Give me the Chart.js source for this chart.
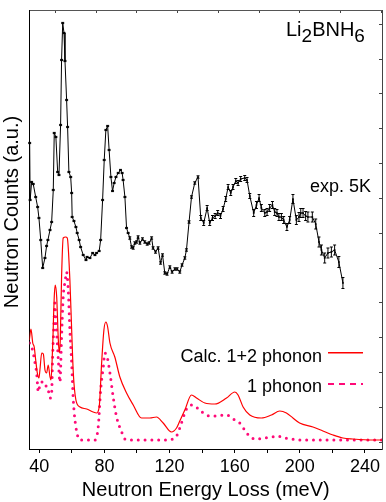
<!DOCTYPE html>
<html>
<head>
<meta charset="utf-8">
<title>Li2BNH6 inelastic neutron spectrum</title>
<script src="https://cdn.jsdelivr.net/npm/chart.js@4.4.1/dist/chart.umd.min.js"></script>
<style>
  html, body { margin: 0; padding: 0; background: #fff; }
  #wrap { width: 386px; height: 502px; }
</style>
</head>
<body>
<div id="wrap"><canvas id="ins-chart" width="386" height="502"></canvas></div>
<script>
const FONT = '"Liberation Sans", Arial, Helvetica, sans-serif';

// Measured spectrum at 5 K (energy in meV, counts in arbitrary units)
const expEnergy = [
  34.1, 34.4, 35.3, 36.3, 37.8, 39.0, 39.8, 40.9, 42.1, 43.5,
  44.5, 45.3, 46.6, 47.6, 48.6, 49.2, 50.2, 51.3, 52.1, 53.1,
  53.7, 54.4, 55.2, 55.8, 56.8, 57.4, 58.2, 59.3, 59.9, 60.2,
  61.3, 62.5, 63.3, 64.5, 65.4, 67.0, 68.7, 69.4, 71.1, 72.8,
  74.2, 75.2, 76.8, 77.7, 78.9, 79.9, 80.9, 82.0, 82.9, 84.0,
  85.0, 86.0, 87.1, 88.5, 89.9, 90.9, 91.5, 92.6, 93.6, 94.6,
  95.6, 96.7, 97.7, 98.7, 99.8, 100.7, 101.8, 103.4, 104.8, 106.3,
  107.5, 109.0, 109.9, 111.4, 113.0, 114.5, 115.7, 117.1, 118.5, 120.2,
  121.6, 123.3, 124.7, 126.3, 127.7, 129.4, 130.4, 132.0, 133.5, 135.5,
  137.5, 139.2, 141.0, 143.1, 144.7, 146.4, 148.0, 149.6, 151.3, 152.9,
  154.5, 156.0, 157.6, 159.0, 160.7, 162.1, 163.7, 166.2, 167.6, 169.3,
  171.7, 173.4, 175.0, 176.4, 178.5, 179.9, 181.5, 183.2, 184.6, 186.0,
  187.2, 188.7, 190.1, 192.1, 193.8, 195.8, 197.9, 199.5, 200.6, 202.0,
  203.6, 205.0, 207.7, 209.8, 211.8, 213.3, 215.3, 217.3, 219.4, 221.4,
  224.0, 226.5
];
const expCounts = [
  306, 249, 267, 265, 252, 242, 231, 209, 181, 191,
  203, 209, 219, 227, 259, 316, 312, 277, 274, 324,
  389, 426, 416, 388, 349, 322, 277, 272, 256, 232,
  228, 222, 216, 209, 202, 194, 189, 192, 191, 196,
  194, 196, 198, 209, 249, 289, 319, 323, 299, 272,
  258, 266, 272, 276, 279, 276, 269, 252, 221, 216,
  211, 202, 201, 206, 207, 212, 206, 210, 207, 205,
  206, 211, 201, 197, 201, 186, 194, 176, 175, 182,
  177, 180, 180, 177, 184, 191, 199, 227, 252, 266,
  272, 231, 226, 241, 226, 231, 233, 236, 233, 240,
  250, 262, 256, 262, 268, 266, 270, 271, 269, 253,
  236, 244, 251, 241, 236, 237, 241, 244, 237, 236,
  232, 232, 229, 222, 229, 250, 229, 232, 236, 236,
  233, 232, 232, 225, 207, 199, 191, 196, 197, 199,
  187, 166
];
const expError = [
  0.6, 0.6, 0.6, 0.6, 0.6, 0.6, 0.6, 0.6, 0.6, 0.6,
  0.6, 0.6, 0.6, 0.6, 0.6, 0.6, 0.6, 0.6, 0.6, 0.6,
  0.6, 0.6, 0.6, 0.6, 0.6, 0.6, 0.6, 0.6, 0.6, 0.6,
  0.6, 0.6, 0.6, 0.6, 0.6, 0.6, 0.6, 0.6, 0.6, 0.6,
  0.6, 0.6, 0.6, 0.6, 0.6, 0.6, 0.6, 0.6, 0.6, 0.6,
  0.6, 0.6, 0.6, 0.6, 0.6, 0.6, 0.6, 0.6, 0.6, 0.6,
  1.2, 1.2, 1.2, 1.2, 1.2, 1.2, 1.2, 1.2, 1.2, 1.2,
  1.2, 1.2, 1.2, 1.2, 1.2, 1.2, 1.2, 1.2, 1.2, 1.2,
  1.2, 1.2, 1.2, 1.2, 1.2, 1.2, 1.2, 1.2, 1.2, 1.2,
  1.2, 2.5, 2.5, 2.5, 2.5, 2.5, 2.5, 2.5, 2.5, 2.5,
  2.5, 2.5, 2.5, 2.5, 2.5, 2.5, 2.5, 2.5, 2.5, 2.5,
  3.5, 3.5, 3.5, 3.5, 3.5, 3.5, 3.5, 3.5, 3.5, 3.5,
  3.5, 3.5, 3.5, 3.5, 3.5, 4.5, 4.5, 4.5, 4.5, 4.5,
  4.5, 5, 5, 5, 5, 5, 5, 5, 5, 5,
  5.5, 5.5
];

// Calculated spectrum, 1+2 phonon
const calcEnergy = [
  33.9, 34.9, 36.0, 36.9, 37.8, 38.8, 39.8, 40.4, 41.5, 42.5,
  43.5, 44.5, 45.5, 46.6, 47.2, 48.2, 49.2, 49.8, 50.7, 51.7,
  52.3, 52.9, 53.7, 54.7, 56.2, 57.2, 58.8, 59.9, 60.9, 62.5,
  65.0, 69.1, 73.1, 75.2, 76.8, 78.3, 79.7, 80.9, 82.0, 83.4,
  86.4, 89.5, 93.6, 97.7, 102.8, 107.9, 112.0, 116.1, 121.2, 124.3,
  126.3, 129.4, 133.5, 136.6, 141.7, 147.8, 155.0, 160.1, 162.1, 165.2,
  169.3, 176.4, 182.6, 187.7, 191.8, 195.8, 199.9, 208.1, 214.2, 220.4,
  226.5, 232.6, 244.9, 250.5
];
const calcCounts = [
  109, 120, 106, 102, 89, 76, 71, 79, 96, 95,
  79, 76, 84, 72, 69, 102, 152, 164, 152, 109,
  96, 109, 172, 211, 212, 211, 169, 119, 76, 49,
  42, 40, 37, 36, 42, 86, 119, 127, 122, 106,
  92, 72, 56, 44, 31, 31, 32, 26, 17, 21,
  28, 39, 54, 51, 46, 45, 51, 57, 54, 42,
  34, 31, 34, 38, 36, 31, 26, 22, 18, 14,
  11, 10, 9, 9
];

// Calculated spectrum, fundamentals only
const onePhEnergy = [
  34.0, 35.3, 36.3, 37.4, 38.4, 39.4, 40.4, 41.5, 42.5, 43.5,
  44.5, 45.5, 46.6, 47.6, 48.2, 49.0, 49.6, 50.2, 50.7, 51.7,
  52.7, 53.7, 54.7, 56.0, 56.8, 57.8, 58.8, 59.9, 60.9, 62.5,
  65.0, 74.2, 76.2, 77.7, 79.3, 80.3, 81.7, 83.4, 85.4, 87.5,
  90.6, 92.6, 95.6, 118.2, 124.3, 126.3, 130.4, 134.0, 138.6, 142.3,
  146.7, 155.0, 159.0, 163.1, 166.2, 169.7, 173.7, 177.9, 182.6, 186.3,
  190.7, 194.8, 199.9, 250.5
];
const onePhCounts = [
  106, 102, 96, 86, 76, 57, 64, 67, 67, 63,
  63, 59, 51, 56, 92, 124, 146, 126, 116, 89,
  67, 112, 152, 169, 177, 159, 119, 86, 49, 22,
  9, 9, 22, 59, 82, 96, 92, 76, 52, 32,
  17, 10, 9, 9, 13, 21, 40, 44, 39, 34,
  33, 34, 30, 26, 19, 12, 10, 11, 12, 13,
  11, 10, 9, 9
];

const seriesLabels = ['exp. 5K', 'Calc. 1+2 phonon', '1 phonon'];
const xMajorTicks = [40, 80, 120, 160, 200, 240];
const xMinorTicks = [60, 100, 140, 180, 220];
const xTopTicks = [50, 75, 100, 125, 150, 175, 200, 225, 250];

const X_MIN = 34, X_MAX = 250.5;
const Y_MIN = 0, Y_MAX = 439;
const RIGHT_TICK_START = 7, RIGHT_TICK_STEP = 34.8;

const RED = '#ff0000';
const PINK = '#ff0a78';

const toPoints = (xs, ys) => xs.map((x, i) => ({ x: x, y: ys[i] }));

// vertical error bars with small caps on the measured series
const errorBarPlugin = {
  id: 'errorBars',
  afterDatasetsDraw(chart) {
    const meta = chart.getDatasetMeta(0);
    const yScale = chart.scales.y;
    const ctx = chart.ctx;
    ctx.save();
    ctx.strokeStyle = '#000';
    ctx.lineWidth = 1;
    meta.data.forEach((pt, i) => {
      const top = yScale.getPixelForValue(expCounts[i] + expError[i]);
      const bot = yScale.getPixelForValue(expCounts[i] - expError[i]);
      ctx.beginPath();
      ctx.moveTo(pt.x, top);
      ctx.lineTo(pt.x, bot);
      ctx.moveTo(pt.x - 1.5, top);
      ctx.lineTo(pt.x + 1.5, top);
      ctx.moveTo(pt.x - 1.5, bot);
      ctx.lineTo(pt.x + 1.5, bot);
      ctx.stroke();
    });
    ctx.restore();
  }
};

// axis title, compound formula, series tag and legend
const overlayPlugin = {
  id: 'overlayText',
  afterDraw(chart) {
    const ctx = chart.ctx;
    const ds = chart.data.datasets;
    ctx.save();
    ctx.fillStyle = '#000';

    ctx.save();
    ctx.translate(12.5, 212);
    ctx.rotate(-Math.PI / 2);
    ctx.font = '20px ' + FONT;
    ctx.textAlign = 'center';
    ctx.textBaseline = 'middle';
    ctx.fillText('Neutron Counts (a.u.)', 0, 0);
    ctx.restore();

    const formula = [['Li', 0], ['2', 6], ['BNH', 0], ['6', 6]];
    let x = 286;
    ctx.textAlign = 'left';
    ctx.textBaseline = 'alphabetic';
    formula.forEach(([t, dy]) => {
      ctx.font = (dy ? '19px ' : '20px ') + FONT;
      ctx.fillText(t, x, 36 + dy);
      x += ctx.measureText(t).width;
    });

    ctx.font = '18px ' + FONT;
    ctx.textAlign = 'right';
    ctx.fillText(ds[0].label, 371, 192);

    const rows = [{ d: ds[1], base: 361.5, lineY: 352.7 }, { d: ds[2], base: 392, lineY: 384 }];
    rows.forEach(r => {
      ctx.fillStyle = '#000';
      ctx.fillText(r.d.label, 322, r.base);
      ctx.save();
      ctx.strokeStyle = r.d.borderColor;
      ctx.lineWidth = r.d === ds[1] ? 1.5 : 2;
      ctx.setLineDash(r.d === ds[1] ? [] : [6, 5]);
      ctx.beginPath();
      ctx.moveTo(328, r.lineY);
      ctx.lineTo(363, r.lineY);
      ctx.stroke();
      ctx.restore();
    });
    ctx.restore();
  }
};

new Chart(document.getElementById('ins-chart'), {
  type: 'line',
  data: {
    datasets: [{
      label: seriesLabels[0],
      data: toPoints(expEnergy, expCounts),
      borderColor: '#000',
      borderWidth: 1,
      pointStyle: 'rect',
      pointRadius: 1.2,
      pointBackgroundColor: '#000',
      pointBorderWidth: 0,
      tension: 0
    }, {
      label: seriesLabels[1],
      data: toPoints(calcEnergy, calcCounts),
      borderColor: RED,
      borderWidth: 1.2,
      pointRadius: 0,
      cubicInterpolationMode: 'monotone'
    }, {
      label: seriesLabels[2],
      data: toPoints(onePhEnergy, onePhCounts),
      borderColor: PINK,
      borderWidth: 3,
      borderDash: [0, 6.8],
      borderCapStyle: 'round',
      pointRadius: 0,
      cubicInterpolationMode: 'monotone'
    }]
  },
  options: {
    responsive: false,
    animation: false,
    layout: { padding: 0 },
    plugins: {
      legend: { display: false },
      tooltip: { enabled: false }
    },
    scales: {
      x: {
        type: 'linear',
        position: 'bottom',
        min: X_MIN,
        max: X_MAX,
        afterBuildTicks: s => {
          s.ticks = xMajorTicks.concat(xMinorTicks).sort((a, b) => a - b).map(v => ({ value: v }));
        },
        afterFit: s => { s.height = 53; },
        ticks: {
          autoSkip: false,
          maxRotation: 0,
          padding: 3,
          color: '#000',
          font: { family: FONT, size: 18 },
          callback: v => xMajorTicks.includes(v) ? String(v) : ''
        },
        grid: { drawOnChartArea: false, tickLength: 4, color: '#000', tickColor: '#000' },
        border: { color: '#000', width: 1 },
        title: {
          display: true,
          text: 'Neutron Energy Loss (meV)',
          color: '#000',
          font: { family: FONT, size: 20 },
          padding: { top: 0, bottom: 0 }
        }
      },
      xTop: {
        type: 'linear',
        position: 'top',
        min: X_MIN,
        max: X_MAX,
        afterBuildTicks: s => { s.ticks = xTopTicks.map(v => ({ value: v })); },
        afterFit: s => { s.height = 10; },
        ticks: { display: false },
        grid: { drawOnChartArea: false, tickLength: -3, color: '#444' },
        border: { color: '#555', width: 1 }
      },
      y: {
        type: 'linear',
        position: 'left',
        min: Y_MIN,
        max: Y_MAX,
        afterFit: s => { s.width = 29.5; },
        ticks: { display: false },
        grid: { display: false },
        border: { display: true, color: '#000', width: 1 }
      },
      yRight: {
        type: 'linear',
        position: 'right',
        min: Y_MIN,
        max: Y_MAX,
        afterBuildTicks: s => {
          const t = [];
          for (let v = RIGHT_TICK_START; v < Y_MAX; v += RIGHT_TICK_STEP) t.push({ value: v });
          s.ticks = t;
        },
        afterFit: s => { s.width = 3.5; },
        ticks: { display: false },
        grid: { drawOnChartArea: false, tickLength: -3, color: '#444' },
        border: { color: '#444', width: 1 }
      }
    }
  },
  plugins: [errorBarPlugin, overlayPlugin]
});
</script>
</body>
</html>
